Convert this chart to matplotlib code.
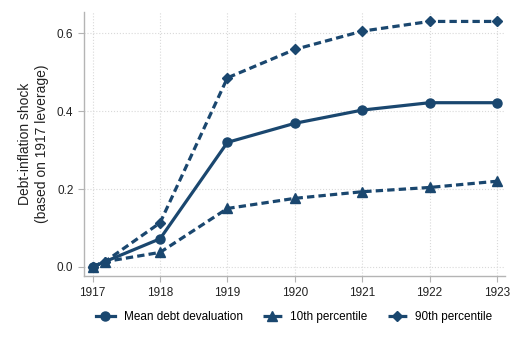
import matplotlib.pyplot as plt
from matplotlib.ticker import FormatStrFormatter

plt.rcParams['font.family'] = ['Liberation Sans', 'DejaVu Sans']

years = [1917, 1918, 1919, 1920, 1921, 1922, 1923]
mean_dev = [0.0, 0.072, 0.320, 0.369, 0.403, 0.422, 0.422]

# percentile series have an extra point just after 1917
pct_years = [1917, 1917.18, 1918, 1919, 1920, 1921, 1922, 1923]
p10 = [0.0, 0.013, 0.037, 0.150, 0.176, 0.193, 0.204, 0.220]
p90 = [0.0, 0.013, 0.113, 0.486, 0.559, 0.606, 0.631, 0.631]

navy = '#1a476f'
gray = '#b4b4b4'

fig = plt.figure(figsize=(5.18, 3.46), dpi=100)
ax = fig.add_axes([0.162, 0.202, 0.813, 0.763])

ax.plot(years, mean_dev, color=navy, lw=2.3, marker='o', ms=6.5,
        label='Mean debt devaluation', zorder=3)
ax.plot(pct_years, p10, color=navy, lw=2.3, ls=(0, (2.3, 1.3)), marker='^', ms=6.5,
        label='10th percentile', zorder=3)
ax.plot(pct_years, p90, color=navy, lw=2.3, ls=(0, (2.3, 1.3)), marker='D', ms=5,
        label='90th percentile', zorder=3)

ax.set_xlim(1916.87, 1923.12)
ax.set_ylim(-0.024, 0.655)
ax.set_xticks(years)
ax.set_yticks([0.0, 0.2, 0.4, 0.6])
ax.yaxis.set_major_formatter(FormatStrFormatter('%.1f'))
ax.grid(True, color='#d9d9d9', ls=':', lw=0.8)
ax.set_axisbelow(True)

for s in ['top', 'right']:
    ax.spines[s].set_visible(False)
for s in ['left', 'bottom']:
    ax.spines[s].set_color(gray)
    ax.spines[s].set_linewidth(1.0)
ax.tick_params(colors=gray, labelcolor='#222222', labelsize=8.5, length=4, width=0.8)

ax.set_ylabel('Debt-inflation shock\n(based on 1917 leverage)', fontsize=10,
              color='#222222', labelpad=6)

fig.legend(loc='center', bbox_to_anchor=(0.568, 0.084), ncol=3, frameon=False,
           fontsize=8.5, handlelength=1.6, columnspacing=1.7, handletextpad=0.75)

fig.savefig('out.png', dpi=100)
